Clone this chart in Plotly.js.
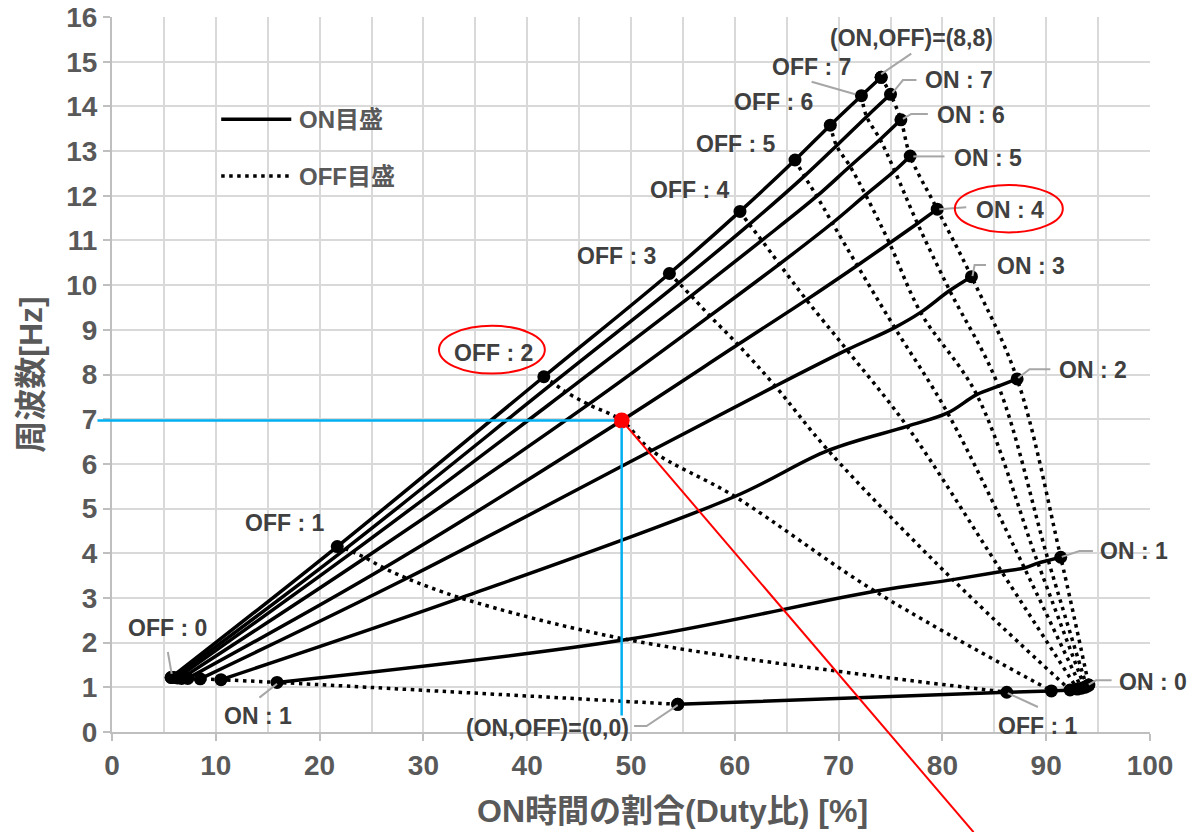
<!DOCTYPE html>
<html>
<head>
<meta charset="utf-8">
<script src="https://cdn.plot.ly/plotly-3.0.1.min.js"></script>
<style>
html,body{margin:0;padding:0;background:#ffffff;}
#chart{width:1196px;height:832px;}
</style>
</head>
<body>
<div id="chart"></div>
<script>
// ---------------- DATA ----------------
// Index of every array = OFF setting 0..8
const offSettings = [0, 1, 2, 3, 4, 5, 6, 7, 8];
const onSettings  = [0, 1, 2, 3, 4, 5, 6, 7, 8];

// Duty ratio [%] and frequency [Hz] for each ON setting
const dutyON0 = [54.5, 86.2, 90.5, 92.3, 93.0, 93.4, 93.7, 93.9, 94.1];
const freqON0 = [0.62, 0.89, 0.92, 0.94, 0.96, 0.98, 1.00, 1.02, 1.05];
const dutyON1 = [15.9, 49.6, 73.5, 81.0, 85.7, 87.9, 89.2, 90.2, 91.4];
const freqON1 = [1.11, 2.07, 3.15, 3.41, 3.59, 3.67, 3.78, 3.84, 3.91];
const dutyON2 = [10.5, 33.6, 60.0, 69.0, 76.6, 80.5, 83.3, 85.4, 87.2];
const freqON2 = [1.17, 3.00, 5.27, 6.30, 6.84, 7.14, 7.55, 7.74, 7.90];
const dutyON3 = [8.5, 28.4, 52.0, 63.9, 70.8, 75.4, 77.9, 80.7, 82.8];
const freqON3 = [1.19, 3.44, 6.30, 7.74, 8.55, 9.05, 9.39, 9.88, 10.19];
const dutyON4 = [7.3, 26.2, 49.1, 60.3, 66.9, 71.8, 74.9, 77.6, 79.5];
const freqON4 = [1.20, 3.67, 6.97, 8.67, 9.67, 10.44, 10.94, 11.38, 11.70];
const dutyON5 = [6.7, 24.4, 45.9, 57.6, 64.3, 69.4, 72.6, 75.4, 76.9];
const freqON5 = [1.20, 3.90, 7.33, 9.31, 10.47, 11.39, 12.02, 12.56, 12.89];
const dutyON6 = [6.3, 23.2, 43.7, 55.8, 62.6, 67.9, 71.1, 74.0, 76.0];
const freqON6 = [1.21, 4.03, 7.61, 9.76, 11.00, 11.99, 12.66, 13.26, 13.70];
const dutyON7 = [6.0, 22.5, 42.5, 54.6, 61.4, 66.7, 69.8, 72.7, 75.0];
const freqON7 = [1.22, 4.10, 7.81, 10.05, 11.36, 12.44, 13.12, 13.77, 14.27];
const dutyON8 = [5.7, 21.7, 41.6, 53.7, 60.5, 65.8, 69.2, 72.2, 74.1];
const freqON8 = [1.22, 4.15, 7.95, 10.26, 11.65, 12.80, 13.58, 14.24, 14.65];

// highlighted setting (ON, OFF) = (4, 2)
const pickON = 4;
const pickOFF = 2;

// legend names
const legendNames = ["ON目盛", "OFF目盛"];

// axis texts
const xTitle = "ON時間の割合(Duty比) [%]";
const yTitle = "周波数[Hz]";

// ---------------- LAYOUT CONSTANTS ----------------
const X_RANGE = [0, 100];
const Y_RANGE = [0, 16];
const FONT = '"Liberation Sans", Arial, "Noto Sans CJK JP", sans-serif';

const dutyByOn = [dutyON0, dutyON1, dutyON2, dutyON3, dutyON4, dutyON5, dutyON6, dutyON7, dutyON8];
const freqByOn = [freqON0, freqON1, freqON2, freqON3, freqON4, freqON5, freqON6, freqON7, freqON8];

const LINE_W = 3.5;
const DOT_DASH = "3.5px,4.5px";
const MARK = 13;

const traces = [];
// solid ON lines
onSettings.forEach(function (i) {
  const edge = (i === 0 || i === 8);
  traces.push({
    type: 'scatter',
    x: dutyByOn[i], y: freqByOn[i],
    mode: edge ? 'lines+markers' : 'lines',
    name: 'ON : ' + i,
    line: {color: '#000000', width: LINE_W, shape: 'spline', smoothing: 1},
    marker: {color: '#000000', size: MARK},
    showlegend: false, hoverinfo: 'x+y'
  });
});
// dotted OFF lines
offSettings.forEach(function (j) {
  const edge = (j === 0 || j === 8);
  traces.push({
    type: 'scatter',
    x: onSettings.slice().reverse().map(function (i) { return dutyByOn[i][j]; }),
    y: onSettings.slice().reverse().map(function (i) { return freqByOn[i][j]; }),
    mode: edge ? 'lines+markers' : 'lines',
    name: 'OFF : ' + j,
    line: {color: '#000000', width: LINE_W, dash: DOT_DASH, shape: 'spline', smoothing: 1},
    marker: {color: '#000000', size: MARK},
    showlegend: false, hoverinfo: 'x+y'
  });
});
// highlighted point
const rpX = dutyByOn[pickON][pickOFF];
const rpY = freqByOn[pickON][pickOFF];
traces.push({
  type: 'scatter', x: [rpX], y: [rpY], mode: 'markers',
  marker: {color: '#ff0000', size: 16},
  showlegend: false, hoverinfo: 'x+y', cliponaxis: false
});

// ---------------- helpers ----------------
function toPX(v) { return (v - X_RANGE[0]) / (X_RANGE[1] - X_RANGE[0]); }
function toPY(v) { return (v - Y_RANGE[0]) / (Y_RANGE[1] - Y_RANGE[0]); }

// label texts and their positions (data units)
const labels = [
  {t: "(ON,OFF)=(8,8)", x: 77.0, y: 15.53, lead: [[74.1, 14.72], [77.0, 15.18]]},
  {t: "OFF : 7", x: 67.4, y: 14.88, lead: [[67.4, 14.55], [71.6, 14.27]]},
  {t: "ON : 7", x: 81.6, y: 14.58, lead: [[75.2, 14.30], [76.2, 14.59], [77.5, 14.59]]},
  {t: "OFF : 6", x: 63.7, y: 14.09},
  {t: "ON : 6", x: 82.8, y: 13.80, lead: [[76.2, 13.72], [77.0, 13.83], [78.6, 13.83]]},
  {t: "OFF : 5", x: 60.1, y: 13.15},
  {t: "ON : 5", x: 84.4, y: 12.84, lead: [[77.2, 12.88], [80.2, 12.88]]},
  {t: "OFF : 4", x: 55.6, y: 12.12},
  {t: "ON : 4", x: 86.5, y: 11.68, lead: [[79.7, 11.70], [82.3, 11.74]]},
  {t: "OFF : 3", x: 48.65, y: 10.65},
  {t: "ON : 3", x: 88.5, y: 10.42, lead: [[82.9, 10.20], [83.1, 10.45], [84.2, 10.45]]},
  {t: "OFF : 2", x: 36.75, y: 8.47},
  {t: "ON : 2", x: 94.5, y: 8.10, lead: [[87.3, 7.92], [88.4, 8.12], [90.4, 8.12]]},
  {t: "OFF : 1", x: 16.6, y: 4.67},
  {t: "ON : 1", x: 98.5, y: 4.04, lead: [[91.5, 3.92], [93.2, 4.05], [94.5, 4.05]]},
  {t: "OFF : 0", x: 5.35, y: 2.33, lead: [[5.75, 1.30], [5.38, 1.79]]},
  {t: "ON : 1", x: 14.1, y: 0.35, lead: [[15.9, 1.08], [14.2, 0.77]]},
  {t: "(ON,OFF)=(0,0)", x: 41.95, y: 0.08, lead: [[54.5, 0.60], [51.5, 0.134], [50.3, 0.134]]},
  {t: "OFF : 1", x: 89.2, y: 0.13, lead: [[86.3, 0.87], [89.2, 0.56]]},
  {t: "ON : 0", x: 100.3, y: 1.12, lead: [[94.1, 1.06], [94.8, 1.157], [96.3, 1.157]]}
];

const annotations = [];
const shapes = [];

labels.forEach(function (L) {
  annotations.push({
    text: L.t, x: toPX(L.x), y: toPY(L.y), xref: 'paper', yref: 'paper',
    xanchor: 'center', yanchor: 'middle', showarrow: false,
    font: {family: FONT, size: 23, color: '#404040', weight: 'bold'}
  });
  if (L.lead) {
    let p = 'M' + L.lead.map(function (q) { return q[0] + ',' + q[1]; }).join(' L');
    shapes.push({type: 'path', xref: 'x', yref: 'y', path: p, layer: 'above',
      line: {color: '#a6a6a6', width: 2}});
  }
});

// red ellipses around highlighted labels
const ellipses = [
  {x0: 81.2, x1: 91.6, y0: 11.18, y1: 12.24},
  {x0: 31.5, x1: 41.7, y0: 8.02, y1: 9.09}
];
ellipses.forEach(function (e) {
  shapes.push({type: 'circle', xref: 'x', yref: 'y', x0: e.x0, x1: e.x1, y0: e.y0, y1: e.y1,
    layer: 'above', line: {color: '#ff0000', width: 2}, fillcolor: 'rgba(0,0,0,0)'});
});

// guide lines from the highlighted point
const guideLeftX = -1.4;     // blue horizontal starts left of the axis
const guideBottomY = 0.37;   // blue vertical ends here
const redEnd = {x: 83.0, y: -2.24};
const rOffX = 0.7, rOffY = 0.16;
shapes.push({type: 'line', xref: 'paper', yref: 'paper',
  x0: toPX(guideLeftX), y0: toPY(rpY), x1: toPX(rpX - rOffX), y1: toPY(rpY),
  layer: 'above', line: {color: '#00b0f0', width: 2.5}});
shapes.push({type: 'line', xref: 'paper', yref: 'paper',
  x0: toPX(rpX), y0: toPY(rpY - rOffY), x1: toPX(rpX), y1: toPY(guideBottomY),
  layer: 'above', line: {color: '#00b0f0', width: 2.5}});
shapes.push({type: 'line', xref: 'paper', yref: 'paper',
  x0: toPX(rpX + 0.45), y0: toPY(rpY - 0.12), x1: toPX(redEnd.x), y1: toPY(redEnd.y),
  layer: 'above', line: {color: '#ff0000', width: 2}});

// custom legend
const legY = [0.857, 0.7776];
shapes.push({type: 'line', xref: 'paper', yref: 'paper', x0: 0.1052, x1: 0.1727, y0: legY[0], y1: legY[0],
  line: {color: '#000000', width: LINE_W}});
shapes.push({type: 'line', xref: 'paper', yref: 'paper', x0: 0.1052, x1: 0.1727, y0: legY[1], y1: legY[1],
  line: {color: '#000000', width: LINE_W, dash: DOT_DASH}});
legendNames.forEach(function (n, k) {
  annotations.push({text: n, xref: 'paper', yref: 'paper', x: 0.178, y: legY[k],
    xanchor: 'left', yanchor: 'middle', showarrow: false,
    font: {family: FONT, size: 24, color: '#595959', weight: 'bold'}});
});

// x-axis title (placed like the reference, slightly right of centre)
annotations.push({text: xTitle, xref: 'paper', yref: 'paper', x: 0.5395, y: -0.1098,
  xanchor: 'center', yanchor: 'middle', showarrow: false,
  font: {family: FONT, size: 32, color: '#595959', weight: 'bold'}});

const layout = {
  width: 1196, height: 832,
  margin: {l: 112, r: 46, t: 17, b: 100, pad: 0},
  paper_bgcolor: '#ffffff', plot_bgcolor: '#ffffff',
  showlegend: false,
  font: {family: FONT, color: '#595959'},
  xaxis: {
    range: X_RANGE, dtick: 10, tick0: 0, automargin: false,
    showgrid: true, gridcolor: '#d9d9d9', gridwidth: 2,
    minor: {dtick: 5, showgrid: true, gridcolor: '#d9d9d9', gridwidth: 2, ticks: ''},
    zeroline: false, showline: true, linecolor: '#bfbfbf', linewidth: 2,
    ticks: 'outside', ticklen: 7, tickwidth: 2, tickcolor: '#bfbfbf',
    tickfont: {family: FONT, size: 28, color: '#595959', weight: 'bold'}
  },
  yaxis: {
    range: Y_RANGE, dtick: 1, tick0: 0, automargin: false,
    showgrid: true, gridcolor: '#d9d9d9', gridwidth: 2,
    zeroline: false, showline: true, linecolor: '#bfbfbf', linewidth: 2,
    ticks: 'outside', ticklen: 7, tickwidth: 2, tickcolor: '#bfbfbf',
    tickfont: {family: FONT, size: 28, color: '#595959', weight: 'bold'},
    title: {text: yTitle, standoff: 14,
      font: {family: FONT, size: 32, color: '#595959', weight: 'bold'}}
  },
  annotations: annotations,
  shapes: shapes
};

Plotly.newPlot('chart', traces, layout, {displayModeBar: false, staticPlot: true});
</script>
</body>
</html>
